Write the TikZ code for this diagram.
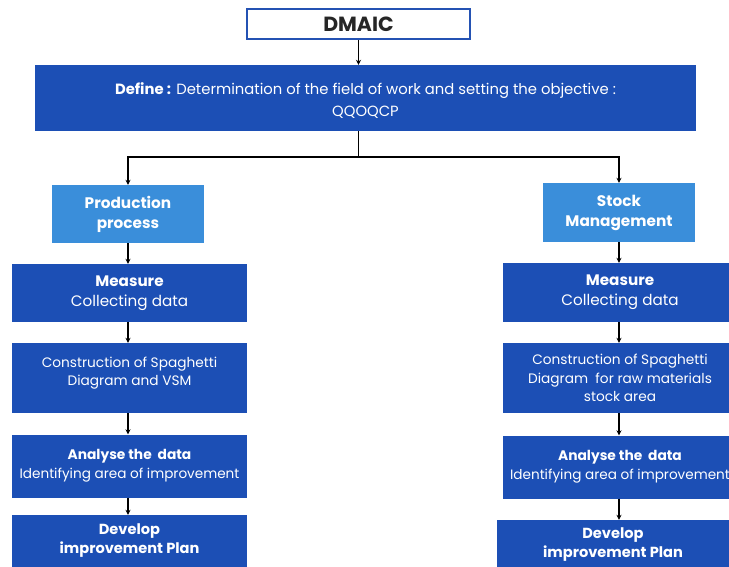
\documentclass[tikz,border=0pt]{standalone}
\usepackage{fontspec}
\setmainfont{Poppins}
\usetikzlibrary{arrows.meta}
\definecolor{dblue}{HTML}{1C4FB5}
\definecolor{lblue}{HTML}{3A8EDA}
\definecolor{bblue}{HTML}{2452B3}
\tikzset{
  dbox/.style={fill=dblue, draw=none, text=white, inner sep=0pt, align=center, anchor=center},
  txt/.style={text=white, inner sep=0pt, align=center, anchor=center},
  lbox/.style={fill=lblue, draw=none, text=white, inner sep=0pt, align=center, anchor=center, font=\bfseries\fontsize{15.3}{20}\selectfont},
  arr/.style={-{Stealth[length=5pt,width=5pt]}, black, line width=1.1pt},
  ln/.style={black, line width=1.1pt},
  big/.style={font=\fontsize{15.2}{20}\selectfont},
  small/.style={font=\fontsize{13.7}{18.5}\selectfont},
  mid/.style={font=\fontsize{13.6}{19}\selectfont},
  dev/.style={font=\bfseries\fontsize{14.6}{19}\selectfont}
}
\begin{document}
\begin{tikzpicture}[x=1pt,y=-1pt]
\useasboundingbox (0,0) rectangle (729,567);
\fill[white] (0,0) rectangle (729,567);
% top
\node[draw=bblue, line width=2.5pt, fill=white, minimum width=223pt, minimum height=30pt, inner sep=0pt,
  font=\bfseries\fontsize{20.5}{22}\selectfont, text=black!85] (dmaic) at (358.5,24) {DMAIC};
\node[dbox, minimum width=661pt, minimum height=66pt] (def) at (365.5,98) {};
\node[txt, font=\fontsize{14.8}{22}\selectfont] (deft) at (365.5,100.5)
  {\textbf{Define :} Determination of the field of work and setting the objective :\\QQOQCP};
% branch boxes
\node[lbox, minimum width=152pt, minimum height=58pt] (prod) at (128,214) {Production\\process};
\node[lbox, minimum width=152pt, minimum height=59pt] (stock) at (619,212.5) {Stock\\Management};
% left column
\node[dbox, big, minimum width=235pt, minimum height=58pt] (lm) at (129.5,293) {\textbf{Measure}\\Collecting data};
\node[dbox, minimum width=235pt, minimum height=70pt] (lc) at (129.5,378) {};
\node[txt, small] (lct) at (129.5,373) {Construction of Spaghetti\\Diagram and VSM};
\node[dbox, mid, minimum width=235pt, minimum height=63pt] (la) at (129.5,466) {\textbf{\fontsize{13.8}{19}\selectfont Analyse the\ \ data}\\Identifying area of improvement};
\node[dbox, dev, minimum width=235pt, minimum height=52pt] (ld) at (129.5,541) {Develop\\improvement Plan};
% right column
\node[dbox, big, minimum width=234pt, minimum height=59pt] (rm) at (620,292.5) {\textbf{Measure}\\Collecting data};
\node[dbox, small, minimum width=234pt, minimum height=70pt] (rc) at (620,378) {Construction of Spaghetti\\Diagram\ \ for raw materials\\stock area};
\node[dbox, mid, minimum width=234pt, minimum height=63pt] (ra) at (620,467) {\textbf{\fontsize{13.8}{19}\selectfont Analyse the\ \ data}\\Identifying area of improvement};
\node[dbox, minimum width=232pt, minimum height=47pt] (rd) at (613,543.5) {};
\node[txt, dev] (rdt) at (613,545) {Develop\\improvement Plan};
% connectors
\coordinate (j) at (358.5,157);
\draw[arr] (dmaic.south) -- (def.north -| dmaic.south);
\draw[ln] (def.south -| dmaic.south) -- (j);
\draw[arr] (j) -| (prod.north);
\draw[arr] (j) -| (stock.north);
\draw[arr] (prod.south) -- (prod.south |- lm.north);
\draw[arr] (prod.south |- lm.south) -- (prod.south |- lc.north);
\draw[arr] (prod.south |- lc.south) -- (prod.south |- la.north);
\draw[arr] (prod.south |- la.south) -- (prod.south |- ld.north);
\draw[arr] (stock.south) -- (stock.south |- rm.north);
\draw[arr] (stock.south |- rm.south) -- (stock.south |- rc.north);
\draw[arr] (stock.south |- rc.south) -- (stock.south |- ra.north);
\draw[arr] (stock.south |- ra.south) -- (stock.south |- rd.north);
\end{tikzpicture}
\end{document}
